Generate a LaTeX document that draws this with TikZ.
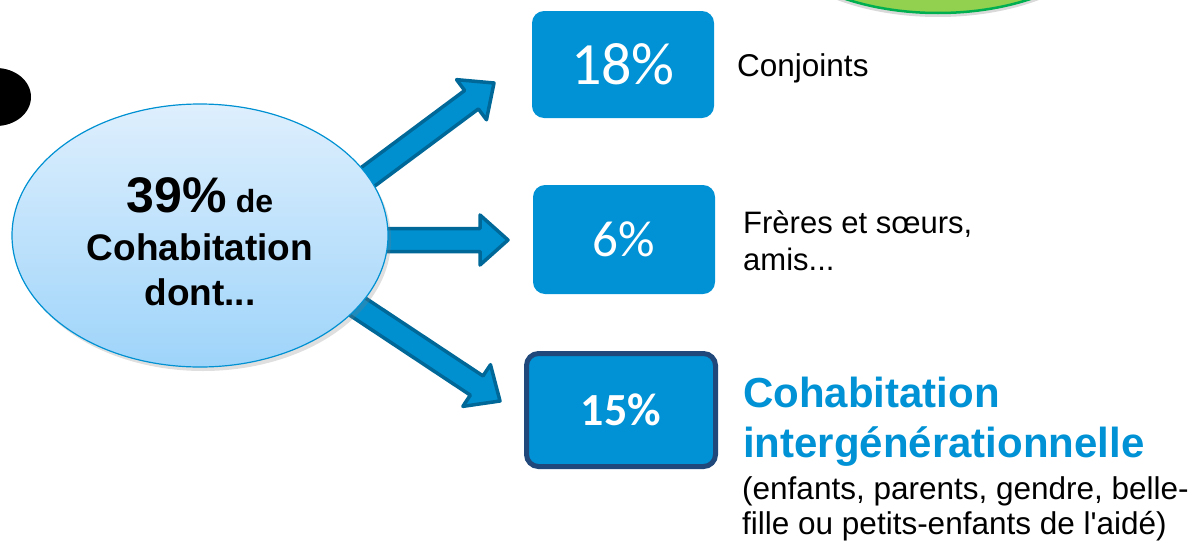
\documentclass[tikz,border=0pt]{standalone}
\usepackage{fontspec}
\setmainfont{Liberation Sans}
\newfontfamily\calfont{Carlito}
\usetikzlibrary{calc,shapes.geometric,shadows}
\definecolor{boxblue}{RGB}{0,146,212}
\definecolor{arrfill}{RGB}{0,144,208}
\definecolor{arrline}{RGB}{0,104,152}
\definecolor{navy}{RGB}{32,72,122}
\definecolor{elltop}{RGB}{222,239,253}
\definecolor{ellbot}{RGB}{158,212,250}
\definecolor{ellline}{RGB}{0,145,210}
\definecolor{gfill}{RGB}{146,208,80}
\definecolor{gline}{RGB}{0,176,80}
\tikzset{
  blockarrow/.style={fill=arrfill, draw=arrline, line width=3.5pt, line join=round},
  pctbox/.style={fill=boxblue, rounded corners=12pt, text=white, inner sep=0pt},
  lbl/.style={anchor=base west, inner sep=0pt, text=black},
  etxt/.style={anchor=base, inner sep=0pt, font=\bfseries},
}
\newcommand{\blockarr}[2]{%
  \coordinate (ba-h) at ($(#2)!28pt!(#1)$);
  \draw[blockarrow] ($(#1)!11.5pt!90:(#2)$) -- ($(ba-h)!11.5pt!90:(#2)$) -- ($(ba-h)!25pt!90:(#2)$) -- (#2) -- ($(ba-h)!25pt!-90:(#2)$) -- ($(ba-h)!11.5pt!-90:(#2)$) -- ($(#1)!11.5pt!-90:(#2)$) -- cycle;
}
\begin{document}
\begin{tikzpicture}[x=1pt,y=-1pt]
\useasboundingbox (0,0) rectangle (1198,541);
% background partial shapes
\node[draw=gline, fill=gfill, line width=2.5pt, ellipse, minimum width=350pt, minimum height=186pt, inner sep=0pt,
  drop shadow={opacity=0.3, shadow xshift=0pt, shadow yshift=-4pt}] (green) at (938,-80) {};
\node[fill=black, ellipse, minimum width=70pt, minimum height=58pt, inner sep=0pt] (blob) at (-4,97) {};
% arrow coordinates
\coordinate (a1s) at (330,205);
\coordinate (a1e) at (494,83);
\coordinate (a2s) at (360,240);
\coordinate (a2e) at (508,240);
\coordinate (a3s) at (337,293);
\coordinate (a3e) at (500,401);
\blockarr{a1s}{a1e}
\blockarr{a2s}{a2e}
\blockarr{a3s}{a3e}
% main ellipse
\node[ellipse, draw=ellline, line width=1.2pt, top color=elltop, bottom color=ellbot,
  minimum width=376pt, minimum height=263pt, inner sep=0pt,
  drop shadow={opacity=0.25, shadow xshift=3pt, shadow yshift=-4pt}] (main) at (200,235.5) {};
\node[etxt] (t39) at (200,212) {\fontsize{50}{52}\selectfont 39\%\fontsize{32}{34}\selectfont\ de};
\node[etxt] (tcoh) at (200,260) {\fontsize{37}{40}\selectfont Cohabitation};
\node[etxt] (tdont) at (200,305) {\fontsize{37}{40}\selectfont dont...};
% boxes
\node[pctbox, minimum width=182pt, minimum height=107pt] (b1) at (623,64.5) {\calfont\fontsize{60}{62}\selectfont 18\%};
\node[pctbox, minimum width=182pt, minimum height=109pt] (b2) at (624,239.5) {\calfont\fontsize{51}{53}\selectfont 6\%};
\node[pctbox, draw=navy, line width=5pt, minimum width=189pt, minimum height=113pt] (b3) at (621,410) {\calfont\bfseries\fontsize{46}{48}\selectfont 15\%};
% labels
\node[lbl] (l1) at (737,76) {\fontsize{31.5}{33}\selectfont Conjoints};
\node[lbl] (l2a) at (743,233) {\fontsize{31}{33}\selectfont Frères et sœurs,};
\node[lbl] (l2b) at (743,270) {\fontsize{31}{33}\selectfont amis...};
\node[lbl, text=boxblue, font=\bfseries] (l3a) at (743,407) {\fontsize{42}{44}\selectfont Cohabitation};
\node[lbl, text=boxblue, font=\bfseries] (l3b) at (743,457) {\fontsize{42}{44}\selectfont intergénérationnelle};
\node[lbl] (l3c) at (742,499) {\fontsize{31.5}{34}\selectfont (enfants, parents, gendre, belle-};
\node[lbl] (l3d) at (742,534) {\fontsize{31.5}{34}\selectfont fille ou petits-enfants de l\textquotesingle aidé)};
\end{tikzpicture}
\end{document}
